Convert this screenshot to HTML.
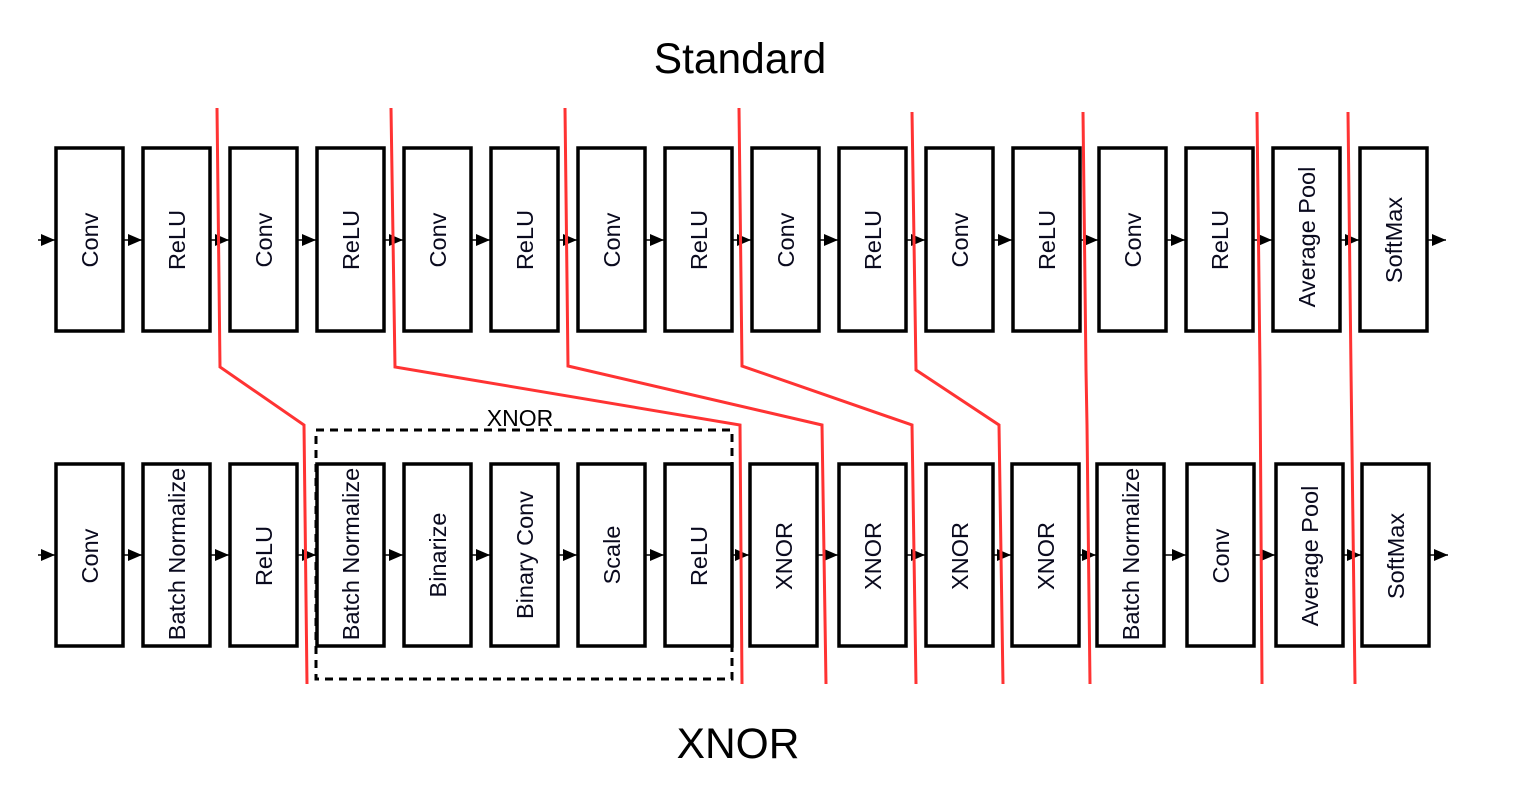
<!DOCTYPE html>
<html><head><meta charset="utf-8"><style>
html,body{margin:0;padding:0;background:#fff;width:1536px;height:794px;overflow:hidden}
svg text{font-family:"Liberation Sans",sans-serif}
</style></head><body>
<svg width="1536" height="794" viewBox="0 0 1536 794" xmlns="http://www.w3.org/2000/svg">
<defs>
<marker id="a" markerWidth="14" markerHeight="12" refX="14" refY="6" orient="auto" markerUnits="userSpaceOnUse"><path d="M0,0L14,6L0,12z" fill="#000"/></marker>
</defs>
<text x="740" y="73" font-size="42.5" text-anchor="middle" fill="#000">Standard</text>
<text x="738" y="758" font-size="42.5" text-anchor="middle" fill="#000">XNOR</text>
<text x="520" y="426" font-size="23" text-anchor="middle" fill="#000">XNOR</text>

<g fill="#fff" stroke="#000" stroke-width="3.5">
<rect x="56" y="148" width="67" height="183"/><rect x="143" y="148" width="67" height="183"/>
<rect x="230" y="148" width="67" height="183"/><rect x="317" y="148" width="67" height="183"/>
<rect x="404" y="148" width="67" height="183"/><rect x="491" y="148" width="67" height="183"/>
<rect x="578" y="148" width="67" height="183"/><rect x="665" y="148" width="67" height="183"/>
<rect x="752" y="148" width="67" height="183"/><rect x="839" y="148" width="67" height="183"/>
<rect x="926" y="148" width="67" height="183"/><rect x="1013" y="148" width="67" height="183"/>
<rect x="1099" y="148" width="67" height="183"/><rect x="1186" y="148" width="67" height="183"/>
<rect x="1273" y="148" width="67" height="183"/><rect x="1360" y="148" width="67" height="183"/>

<rect x="56" y="464" width="67" height="182"/><rect x="143" y="464" width="67" height="182"/>
<rect x="230" y="464" width="67" height="182"/><rect x="317" y="464" width="67" height="182"/>
<rect x="404" y="464" width="67" height="182"/><rect x="491" y="464" width="67" height="182"/>
<rect x="578" y="464" width="67" height="182"/><rect x="665" y="464" width="67" height="182"/>
<rect x="750" y="464" width="67" height="182"/><rect x="839" y="464" width="67" height="182"/>
<rect x="926" y="464" width="67" height="182"/><rect x="1012" y="464" width="67" height="182"/>
<rect x="1097" y="464" width="67" height="182"/><rect x="1187" y="464" width="67" height="182"/>
<rect x="1276" y="464" width="67" height="182"/><rect x="1362" y="464" width="67" height="182"/>
</g>

<g stroke="#000" stroke-width="1.5" marker-end="url(#a)">
<line x1="38" y1="240" x2="55" y2="240"/><line x1="123" y1="240" x2="142" y2="240"/>
<line x1="210" y1="240" x2="229" y2="240"/><line x1="297" y1="240" x2="316" y2="240"/>
<line x1="384" y1="240" x2="403" y2="240"/><line x1="471" y1="240" x2="490" y2="240"/>
<line x1="558" y1="240" x2="577" y2="240"/><line x1="645" y1="240" x2="664" y2="240"/>
<line x1="732" y1="240" x2="751" y2="240"/><line x1="819" y1="240" x2="838" y2="240"/>
<line x1="906" y1="240" x2="925" y2="240"/><line x1="993" y1="240" x2="1012" y2="240"/>
<line x1="1080" y1="240" x2="1098" y2="240"/><line x1="1166" y1="240" x2="1185" y2="240"/>
<line x1="1253" y1="240" x2="1272" y2="240"/><line x1="1340" y1="240" x2="1359" y2="240"/>
<line x1="1427" y1="240" x2="1446" y2="240"/>

<line x1="38" y1="555" x2="55" y2="555"/><line x1="123" y1="555" x2="142" y2="555"/>
<line x1="210" y1="555" x2="229" y2="555"/><line x1="297" y1="555" x2="316" y2="555"/>
<line x1="384" y1="555" x2="403" y2="555"/><line x1="471" y1="555" x2="490" y2="555"/>
<line x1="558" y1="555" x2="577" y2="555"/><line x1="645" y1="555" x2="664" y2="555"/>
<line x1="732" y1="555" x2="749" y2="555"/><line x1="817" y1="555" x2="838" y2="555"/>
<line x1="906" y1="555" x2="925" y2="555"/><line x1="993" y1="555" x2="1011" y2="555"/>
<line x1="1079" y1="555" x2="1096" y2="555"/><line x1="1164" y1="555" x2="1186" y2="555"/>
<line x1="1254" y1="555" x2="1275" y2="555"/><line x1="1343" y1="555" x2="1361" y2="555"/>
<line x1="1429" y1="555" x2="1448" y2="555"/>
</g>

<g font-size="23.5" fill="#0a0a1e" text-anchor="middle">
<text transform="translate(98,240) rotate(-90)">Conv</text>
<text transform="translate(185,240) rotate(-90)">ReLU</text>
<text transform="translate(272,240) rotate(-90)">Conv</text>
<text transform="translate(359,240) rotate(-90)">ReLU</text>
<text transform="translate(446,240) rotate(-90)">Conv</text>
<text transform="translate(533,240) rotate(-90)">ReLU</text>
<text transform="translate(620,240) rotate(-90)">Conv</text>
<text transform="translate(707,240) rotate(-90)">ReLU</text>
<text transform="translate(794,240) rotate(-90)">Conv</text>
<text transform="translate(881,240) rotate(-90)">ReLU</text>
<text transform="translate(968,240) rotate(-90)">Conv</text>
<text transform="translate(1055,240) rotate(-90)">ReLU</text>
<text transform="translate(1141,240) rotate(-90)">Conv</text>
<text transform="translate(1228,240) rotate(-90)">ReLU</text>
<text transform="translate(1315,237) rotate(-90)">Average Pool</text>
<text transform="translate(1402,240) rotate(-90)">SoftMax</text>

<text transform="translate(98,556) rotate(-90)">Conv</text>
<text transform="translate(185,554) rotate(-90)">Batch Normalize</text>
<text transform="translate(272,556) rotate(-90)">ReLU</text>
<text transform="translate(359,554) rotate(-90)">Batch Normalize</text>
<text transform="translate(446,555) rotate(-90)">Binarize</text>
<text transform="translate(533,555) rotate(-90)">Binary Conv</text>
<text transform="translate(620,555) rotate(-90)">Scale</text>
<text transform="translate(707,556) rotate(-90)">ReLU</text>
<text transform="translate(792,556) rotate(-90)">XNOR</text>
<text transform="translate(881,556) rotate(-90)">XNOR</text>
<text transform="translate(968,556) rotate(-90)">XNOR</text>
<text transform="translate(1054,556) rotate(-90)">XNOR</text>
<text transform="translate(1139,554) rotate(-90)">Batch Normalize</text>
<text transform="translate(1229,556) rotate(-90)">Conv</text>
<text transform="translate(1318,556) rotate(-90)">Average Pool</text>
<text transform="translate(1404,556) rotate(-90)">SoftMax</text>
</g>

<rect x="316" y="430" width="416" height="249" fill="none" stroke="#000" stroke-width="3" stroke-dasharray="8,6"/>

<g fill="none" stroke="#ff3333" stroke-width="3">
<polyline points="217,108 220,367 304,425 307,684"/>
<polyline points="391,108 395,367 740,425 742,684"/>
<polyline points="565,108 568,366 822,425 826,684"/>
<polyline points="739,108 742,366 912,425 916,684"/>
<polyline points="912,112 916,370 999,425 1003,684"/>
<polyline points="1083,112 1086,370 1087,425 1090,684"/>
<polyline points="1257,112 1260,370 1262,684"/>
<polyline points="1348,112 1351,370 1355,684"/>
</g>
</svg>
</body></html>
